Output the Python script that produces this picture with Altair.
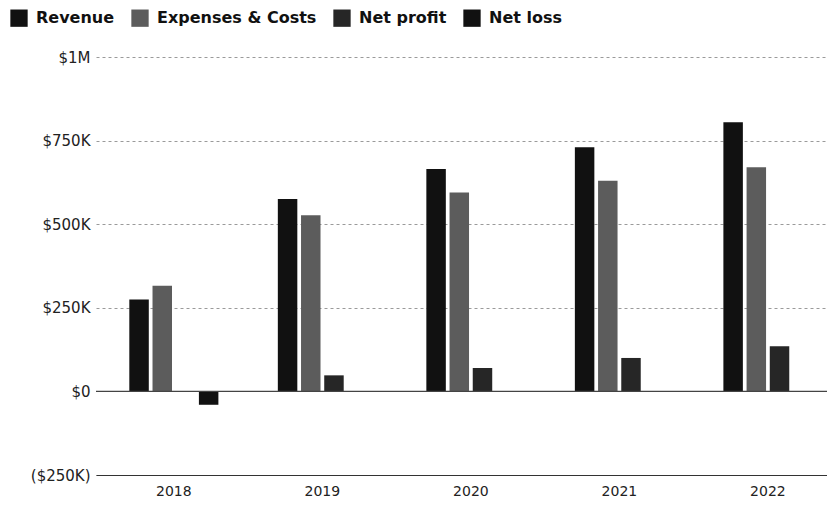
import altair as alt
import pandas as pd

years = ["2018", "2019", "2020", "2021", "2022"]
series = ["Revenue", "Expenses & Costs", "Net profit", "Net loss"]
revenue = [275000, 575000, 665000, 730000, 805000]
expenses = [316000, 527000, 595000, 630000, 670000]
net_profit = [None, 48000, 70000, 100000, 135000]
net_loss = [-40000, None, None, None, None]
y_ticks = [-250000, 0, 250000, 500000, 750000, 1000000]
colors = ["#111111", "#5c5c5c", "#262626", "#111111"]

rows = []
for i, yr in enumerate(years):
    for name, vals in zip(series, [revenue, expenses, net_profit, net_loss]):
        if vals[i] is not None:
            rows.append({"year": yr, "series": name, "value": vals[i]})
df = pd.DataFrame(rows)

label_expr = (
    "datum.value == 0 ? '$0' : datum.value < 0 ? '($' + format(-datum.value/1000, 'd') + 'K)' : "
    "datum.value >= 1000000 ? '$' + format(datum.value/1000000, 'd') + 'M' : "
    "'$' + format(datum.value/1000, 'd') + 'K'"
)

y_axis = alt.Axis(values=y_ticks, labelExpr=label_expr, ticks=False, domain=False,
                  gridDash=[3, 3], gridColor="#9a9a9a", gridWidth=1,
                  labelPadding=6, labelFontSize=15, labelFont="DejaVu Sans",
                  labelColor="#222222")

bars = alt.Chart(df).mark_bar().encode(
    x=alt.X("year:N", sort=years, title=None,
            scale=alt.Scale(paddingInner=0.394, paddingOuter=0.158, align=0.7),
            axis=alt.Axis(labelAngle=0, ticks=False, grid=False, domain=True,
                          domainColor="#333333", domainWidth=1.2, labelPadding=9,
                          labelFontSize=14, labelFont="DejaVu Sans", labelColor="#222222")),
    xOffset=alt.XOffset("series:N", sort=series,
                        scale=alt.Scale(domain=series, paddingInner=0.16, paddingOuter=0.02)),
    y=alt.Y("value:Q", title=None,
            scale=alt.Scale(domain=[-250000, 1000000], nice=False),
            axis=y_axis),
    color=alt.Color("series:N", sort=series,
                    scale=alt.Scale(domain=series, range=colors),
                    legend=alt.Legend(title=None, orient="none", direction="horizontal",
                                      legendX=-86, legendY=-48, symbolType="square",
                                      symbolSize=300, symbolStrokeWidth=0,
                                      labelFont="DejaVu Sans", labelFontSize=16,
                                      labelFontWeight="bold", labelColor="#111111",
                                      labelOffset=8, columnPadding=16, padding=0)),
)

zero = alt.Chart(pd.DataFrame({"v": [0]})).mark_rule(color="#444444", strokeWidth=1.2).encode(
    y=alt.Y("v:Q", title=None, axis=y_axis)
)

chart = alt.layer(bars, zero).properties(
    width=731, height=418,
    background="white",
    autosize=alt.AutoSizeParams(type="none"),
    padding={"left": 88, "top": 49, "right": 0, "bottom": 24},
).configure_view(stroke=None)

chart.save("out.html", embed_options={"renderer": "svg", "actions": False})
